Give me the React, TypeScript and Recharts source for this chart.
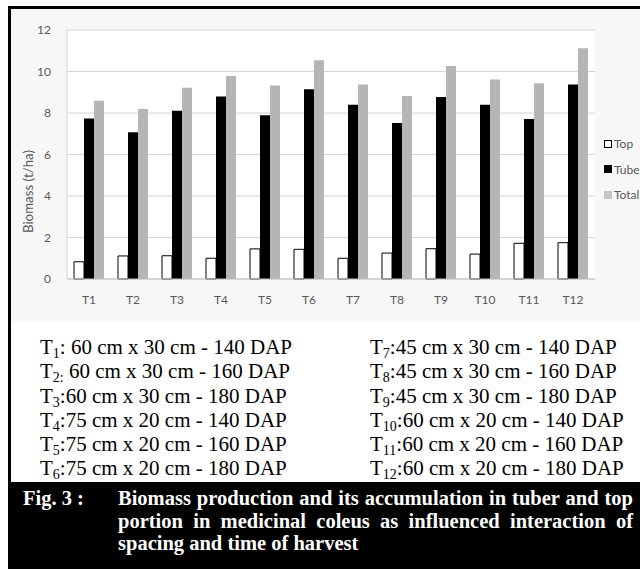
import { Bar, BarChart, CartesianGrid, Label, XAxis, YAxis } from "recharts";

// biomass (t/ha) per treatment
const categories = ["T1", "T2", "T3", "T4", "T5", "T6", "T7", "T8", "T9", "T10", "T11", "T12"];
const topValues = [0.83, 1.11, 1.12, 1.0, 1.45, 1.43, 1.0, 1.25, 1.46, 1.2, 1.72, 1.75];
const tuberValues = [7.74, 7.07, 8.11, 8.8, 7.89, 9.14, 8.4, 7.52, 8.77, 8.4, 7.71, 9.37];
const totalValues = [8.59, 8.19, 9.22, 9.78, 9.33, 10.54, 9.37, 8.82, 10.27, 9.61, 9.43, 11.12];
const yTicks = [0, 2, 4, 6, 8, 10, 12];

// treatment key under the chart: [number, separator, description]
const leftKey = [
	["1", ": ", "60 cm x 30 cm - 140 DAP"],
	["2:", " ", "60 cm x 30 cm - 160 DAP"],
	["3", ":", "60 cm x 30 cm - 180 DAP"],
	["4", ":", "75 cm x 20 cm - 140 DAP"],
	["5", ":", "75 cm x 20 cm - 160 DAP"],
	["6", ":", "75 cm x 20 cm - 180 DAP"],
];
const rightKey = [
	["7", ":", "45 cm x 30 cm - 140 DAP"],
	["8", ":", "45 cm x 30 cm - 160 DAP"],
	["9", ":", "45 cm x 30 cm - 180 DAP"],
	["10", ":", "60 cm x 20 cm - 140 DAP"],
	["11", ":", "60 cm x 20 cm - 160 DAP"],
	["12", ":", "60 cm x 20 cm - 180 DAP"],
];

const captionLines = [
	"Biomass production and its accumulation in tuber and top",
	"portion in medicinal coleus as influenced interaction of",
	"spacing and time of harvest",
];

const series = [
	{ key: "top", name: "Top", fill: "#ffffff", stroke: "#000000" },
	{ key: "tuber", name: "Tuber", fill: "#000000", stroke: "none" },
	{ key: "total", name: "Total", fill: "#b5b5b5", stroke: "none" },
];

const data = categories.map((name, i) => ({
	name,
	top: topValues[i],
	tuber: tuberValues[i],
	total: totalValues[i],
}));

const AXIS_FONT = "Lato, 'Open Sans', sans-serif";
const SERIF = "'Liberation Serif', 'DejaVu Serif', serif";
const GREY_TEXT = "#595959";

const YTitle = (props: any) => {
	const vb = props.viewBox;
	const cx = vb.x + 17;
	const cy = vb.y + vb.height / 2 + 37;
	return (
		<text
			x={cx}
			y={cy}
			transform={`rotate(-90 ${cx} ${cy})`}
			textAnchor="middle"
			dominantBaseline="central"
			fill={GREY_TEXT}
			fontSize={13.3}
			fontFamily={AXIS_FONT}
		>
			Biomass (t/ha)
		</text>
	);
};

const XTitle = (props: any) => {
	const vb = props.viewBox;
	// the title sits left of the plot centre in the original
	const cx = vb.x + vb.width / 2 - 54;
	const cy = vb.y + vb.height + 33;
	return (
		<text
			x={cx}
			y={cy}
			textAnchor="middle"
			dominantBaseline="central"
			fill={GREY_TEXT}
			fontSize={13.3}
			fontFamily={AXIS_FONT}
		>
			Interaction of spacing and time of harvest
		</text>
	);
};

const KeyColumn = ({ rows, left }: { rows: string[][]; left: number }) => (
	<div
		style={{
			position: "absolute",
			left,
			top: 335,
			fontFamily: SERIF,
			fontSize: 21,
			lineHeight: "24px",
			color: "#000",
			whiteSpace: "nowrap",
		}}
	>
		{rows.map(([n, sep, txt]) => (
			<div key={n} style={{ height: 24.3 }}>
				T<span style={{ fontSize: 14, lineHeight: "14px", position: "relative", top: 4 }}>{n}</span>
				{sep}
				{txt}
			</div>
		))}
	</div>
);

export default function App() {
	return (
		<div
			style={{
				position: "fixed",
				left: 0,
				top: 0,
				width: 640,
				height: 569,
				overflow: "hidden",
				background: "#fff",
			}}
		>
			{/* figure frame */}
			<div
				style={{
					position: "absolute",
					left: 8,
					top: 6,
					width: 700,
					height: 600,
					borderTop: "3px solid #000",
					borderLeft: "3px solid #000",
				}}
			/>
			<div
				style={{
					position: "absolute",
					left: 11,
					top: 9,
					width: 640,
					height: 313,
					background: "#f7f7f7",
				}}
			>
				<BarChart
					width={640}
					height={313}
					data={data}
					margin={{ top: 21, right: 56, left: 0, bottom: 0 }}
					barGap={0}
					barSize={10}
				>
					<CartesianGrid vertical={false} stroke="#d4d4d4" fill="#ffffff" />
					<XAxis
						dataKey="name"
						height={43}
						tickLine={false}
						tickSize={0}
						tickMargin={16}
						stroke="#c4c4c4"
						tick={{ fill: GREY_TEXT, fontSize: 12, fontFamily: AXIS_FONT }}
						interval={0}
					>
						<Label content={(p: any) => <XTitle {...p} />} />
					</XAxis>
					<YAxis
						width={56}
						domain={[0, 12]}
						ticks={yTicks}
						tickLine={false}
						tickSize={0}
						tickMargin={16}
						stroke="#d4d4d4"
						tick={{ fill: GREY_TEXT, fontSize: 12, fontFamily: AXIS_FONT }}
					>
						<Label content={(p: any) => <YTitle {...p} />} />
					</YAxis>
					{series.map((s) => (
						<Bar
							key={s.key}
							dataKey={s.key}
							name={s.name}
							fill={s.fill}
							stroke={s.stroke}
							strokeWidth={1}
							isAnimationActive={false}
						/>
					))}
				</BarChart>
			</div>

			{/* legend, cut off by the page edge like the original */}
			<div
				style={{
					position: "absolute",
					left: 604,
					top: 131,
					fontFamily: AXIS_FONT,
					fontSize: 12,
					color: GREY_TEXT,
					whiteSpace: "nowrap",
				}}
			>
				{series.map((s) => (
					<div key={s.key} style={{ height: 25.5, display: "flex", alignItems: "center" }}>
						<span
							style={{
								display: "inline-block",
								width: 6,
								height: 6,
								marginRight: 2,
								background: s.key === "total" ? "#c4c4c4" : s.fill,
								border: s.key === "top" ? "1px solid #000" : "1px solid transparent",
							}}
						/>
						{s.name}
					</div>
				))}
			</div>

			<KeyColumn rows={leftKey} left={40} />
			<KeyColumn rows={rightKey} left={370} />

			{/* caption */}
			<div
				style={{
					position: "absolute",
					left: 8,
					top: 482,
					width: 640,
					height: 90,
					background: "#000",
					color: "#fff",
					fontFamily: SERIF,
					fontWeight: "bold",
					fontSize: 20.5,
					lineHeight: "22.5px",
				}}
			>
				<div style={{ position: "absolute", left: 15, top: 5, whiteSpace: "pre" }}>Fig. 3 :</div>
				<div style={{ position: "absolute", left: 110, top: 5, width: 515 }}>
					{captionLines.map((line, i) => (
						<div
							key={i}
							style={{
								whiteSpace: "nowrap",
								textAlign: i < captionLines.length - 1 ? "justify" : "left",
								textAlignLast: i < captionLines.length - 1 ? "justify" : "left",
							}}
						>
							{line}
						</div>
					))}
				</div>
			</div>
		</div>
	);
}
